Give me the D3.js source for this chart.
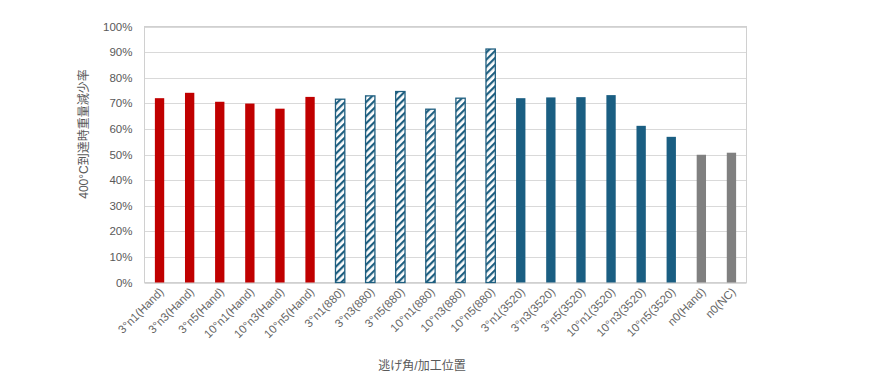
<!DOCTYPE html>
<html><head><meta charset="utf-8">
<script src="https://cdn.jsdelivr.net/npm/d3@7/dist/d3.min.js"></script>
<style>body{margin:0;background:#fff;} text{font-family:"Liberation Sans","Noto Sans CJK JP",Arial,sans-serif;}</style>
</head><body><svg id="c" width="874" height="375"></svg>
<script>
const categories = ["3°n1(Hand)","3°n3(Hand)","3°n5(Hand)","10°n1(Hand)","10°n3(Hand)","10°n5(Hand)",
  "3°n1(880)","3°n3(880)","3°n5(880)","10°n1(880)","10°n3(880)","10°n5(880)",
  "3°n1(3520)","3°n3(3520)","3°n5(3520)","10°n1(3520)","10°n3(3520)","10°n5(3520)",
  "n0(Hand)","n0(NC)"];
const values = [0.720,0.741,0.706,0.699,0.679,0.725,
  0.716,0.729,0.746,0.677,0.720,0.912,
  0.720,0.723,0.724,0.732,0.612,0.569,
  0.499,0.507];
const groups = ["hand","hand","hand","hand","hand","hand",
  "880","880","880","880","880","880",
  "3520","3520","3520","3520","3520","3520",
  "n0","n0"];
const yTicks = [0,0.1,0.2,0.3,0.4,0.5,0.6,0.7,0.8,0.9,1.0];
const yTitle = "400°C到達時重量減少率";
const xTitle = "逃げ角/加工位置";

const svg = d3.select("#c");
const m = {l:144.5, r:746.5, t:26.5, b:282.5};
const x = d3.scaleBand().domain(categories).range([m.l, m.r]).paddingInner(0.69).paddingOuter(0.345);
const y = d3.scaleLinear().domain([0,1]).range([m.b, m.t]);

const defs = svg.append("defs");
const pat = defs.append("pattern").attr("id","hatch").attr("patternUnits","userSpaceOnUse")
  .attr("width",5).attr("height",5).attr("patternTransform","rotate(45)");
pat.append("rect").attr("width",5).attr("height",5).attr("fill","#fff");
pat.append("rect").attr("x",0).attr("y",0).attr("width",2.2).attr("height",5).attr("fill","#1F5F80");

svg.append("g").selectAll("line").data(yTicks).join("line")
  .attr("x1",m.l).attr("x2",m.r).attr("y1",d=>Math.round(y(d))+0.5).attr("y2",d=>Math.round(y(d))+0.5)
  .attr("stroke","#d9d9d9").attr("stroke-width",1);
svg.append("rect").attr("x",m.l).attr("y",m.t).attr("width",m.r-m.l).attr("height",m.b-m.t)
  .attr("fill","none").attr("stroke","#d0d0d0");

const colors = {hand:"#C00000","3520":"#1A5E82",n0:"#808080"};
svg.append("g").selectAll("rect").data(categories).join("rect")
  .attr("x",(d)=>x(d)).attr("width",x.bandwidth())
  .attr("y",(d,i)=>y(values[i])).attr("height",(d,i)=>y(0)-y(values[i]))
  .attr("fill",(d,i)=>groups[i]==="880"?"url(#hatch)":colors[groups[i]])
  .attr("stroke",(d,i)=>groups[i]==="880"?"#1F5F80":"none")
  .attr("stroke-width",1.3);

const yAxis = d3.axisLeft(y).tickValues(yTicks).tickFormat(d3.format(".0%")).tickSize(0).tickPadding(12);
const ga = svg.append("g").attr("transform",`translate(${m.l},0)`).call(yAxis);
ga.select(".domain").remove();
ga.selectAll("text").attr("fill","#595959").attr("font-size","11.5px");

const xAxis = d3.axisBottom(x).tickSize(0).tickPadding(0);
const gx = svg.append("g").attr("transform",`translate(0,${m.b})`).call(xAxis);
gx.select(".domain").remove();
gx.selectAll("text").attr("fill","#666").attr("font-size","11.5px")
  .attr("text-anchor","end").attr("dy",null).attr("y",null)
  .attr("transform","translate(5,10) rotate(-45)");

svg.append("text").attr("transform",`translate(88,134) rotate(-90)`)
  .attr("text-anchor","middle").attr("fill","#595959").attr("font-size","12px").text(yTitle);
svg.append("text").attr("x",422).attr("y",370).attr("text-anchor","middle")
  .attr("fill","#595959").attr("font-size","12px").text(xTitle);
</script></body></html>
